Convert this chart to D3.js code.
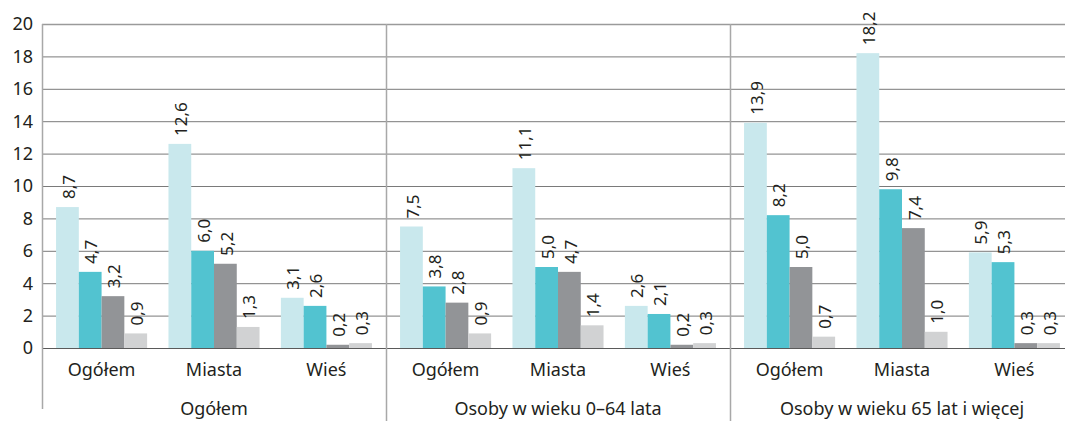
<!DOCTYPE html>
<html>
<head>
<meta charset="utf-8">
<script src="https://cdn.jsdelivr.net/npm/d3@7"></script>
<style>
  body { margin: 0; background: #fff; }
  svg { display: block; font-family: "Noto Sans", sans-serif; }
</style>
</head>
<body>
<div id="chart"></div>
<script>
// data
var groups = ["Ogółem", "Osoby w wieku 0–64 lata", "Osoby w wieku 65 lat i więcej"];
var subcats = ["Ogółem", "Miasta", "Wieś"];
var series = ["s1", "s2", "s3", "s4"];
var yTicks = [0, 2, 4, 6, 8, 10, 12, 14, 16, 18, 20];

// values per group, per subcategory, per series
var valuesOgolem = [[8.7, 4.7, 3.2, 0.9], [12.6, 6.0, 5.2, 1.3], [3.1, 2.6, 0.2, 0.3]];
var values064 = [[7.5, 3.8, 2.8, 0.9], [11.1, 5.0, 4.7, 1.4], [2.6, 2.1, 0.2, 0.3]];
var values65 = [[13.9, 8.2, 5.0, 0.7], [18.2, 9.8, 7.4, 1.0], [5.9, 5.3, 0.3, 0.3]];
var allValues = [valuesOgolem, values064, values65];

var colors = ["#c9e8ed", "#52c3d0", "#929497", "#d1d2d3"];

var width = 1065, height = 421;
var mLeft = 42, mTop = 24, zeroY = 348, groupW = 344;

var svg = d3.select("#chart").append("svg")
    .attr("width", width)
    .attr("height", height);

var y = d3.scaleLinear().domain([0, 20]).range([zeroY, mTop]);

var x0 = d3.scaleBand().domain(groups).range([mLeft, mLeft + groupW * groups.length]);
var x1 = d3.scaleBand().domain(subcats).range([0, x0.bandwidth()])
    .paddingInner(0.19).paddingOuter(0.125);
var x2 = d3.scaleBand().domain(series).range([0, x1.bandwidth()]);

var fmt = function (v) { return d3.format(".1f")(v).replace(".", ","); };

// gridlines
svg.append("g")
    .selectAll("line")
    .data(yTicks.filter(function (d) { return d > 0; }))
    .enter().append("line")
    .attr("x1", mLeft).attr("x2", x0.range()[1])
    .attr("y1", function (d) { return y(d) + 0.5; })
    .attr("y2", function (d) { return y(d) + 0.5; })
    .attr("stroke", function (d) { return d == 20 ? "#9a9a9a" : "#7a7a7a"; })
    .attr("stroke-width", function (d) { return d == 20 ? 1.5 : 1; });

// y tick labels
svg.append("g")
    .selectAll("text")
    .data(yTicks)
    .enter().append("text")
    .attr("x", 33)
    .attr("y", function (d) { return y(d); })
    .attr("dy", "0.36em")
    .attr("text-anchor", "end")
    .attr("fill", "#231f20")
    .style("font-size", "18px")
    .text(function (d) { return d; });

// bars
var gGroup = svg.selectAll("g.group")
    .data(groups)
    .enter().append("g")
    .attr("class", "group")
    .attr("transform", function (d) { return "translate(" + x0(d) + ",0)"; });

gGroup.each(function (g, gi) {
    var gs = d3.select(this).selectAll("g.sub")
        .data(subcats)
        .enter().append("g")
        .attr("class", "sub")
        .attr("transform", function (d) { return "translate(" + x1(d) + ",0)"; });

    gs.each(function (s, si) {
        var vals = allValues[gi][si];
        var sel = d3.select(this);
        sel.selectAll("rect")
            .data(vals)
            .enter().append("rect")
            .attr("x", function (d, i) { return x2(series[i]); })
            .attr("width", x2.bandwidth())
            .attr("y", function (d) { return y(d); })
            .attr("height", function (d) { return zeroY - y(d); })
            .attr("fill", function (d, i) { return colors[i]; });

        sel.selectAll("text.val")
            .data(vals)
            .enter().append("text")
            .attr("class", "val")
            .attr("transform", function (d, i) {
                return "translate(" + (x2(series[i]) + x2.bandwidth() / 2 + 1) + "," + (y(d) - 8) + ") rotate(-90)";
            })
            .attr("dy", "0.36em")
            .attr("fill", "#231f20")
            .style("font-size", "17px")
            .text(function (d) { return fmt(d); });

        sel.append("text")
            .attr("x", x1.bandwidth() / 2)
            .attr("y", 376)
            .attr("text-anchor", "middle")
            .attr("fill", "#231f20")
            .style("font-size", "18px")
            .text(s);
    });

    // group label sits right at the bottom edge, as in the source
    d3.select(this).append("text")
        .attr("x", x0.bandwidth() / 2)
        .attr("y", 415)
        .attr("text-anchor", "middle")
        .attr("fill", "#231f20")
        .style("font-size", "18px")
        .text(g);
});

// zero line
svg.append("line")
    .attr("x1", mLeft).attr("x2", x0.range()[1])
    .attr("y1", zeroY + 0.5).attr("y2", zeroY + 0.5)
    .attr("stroke", "#5a5a5a")
    .attr("stroke-width", 1);

// y axis line
svg.append("line")
    .attr("x1", mLeft + 0.5).attr("x2", mLeft + 0.5)
    .attr("y1", mTop).attr("y2", 409)
    .attr("stroke", "#a8a8a8")
    .attr("stroke-width", 1.5);

// group separators
svg.append("g")
    .selectAll("line")
    .data(groups.slice(1))
    .enter().append("line")
    .attr("x1", function (d) { return x0(d) + 0.5; })
    .attr("x2", function (d) { return x0(d) + 0.5; })
    .attr("y1", mTop).attr("y2", height)
    .attr("stroke", "#a8a8a8")
    .attr("stroke-width", 1.5);
</script>
</body>
</html>
